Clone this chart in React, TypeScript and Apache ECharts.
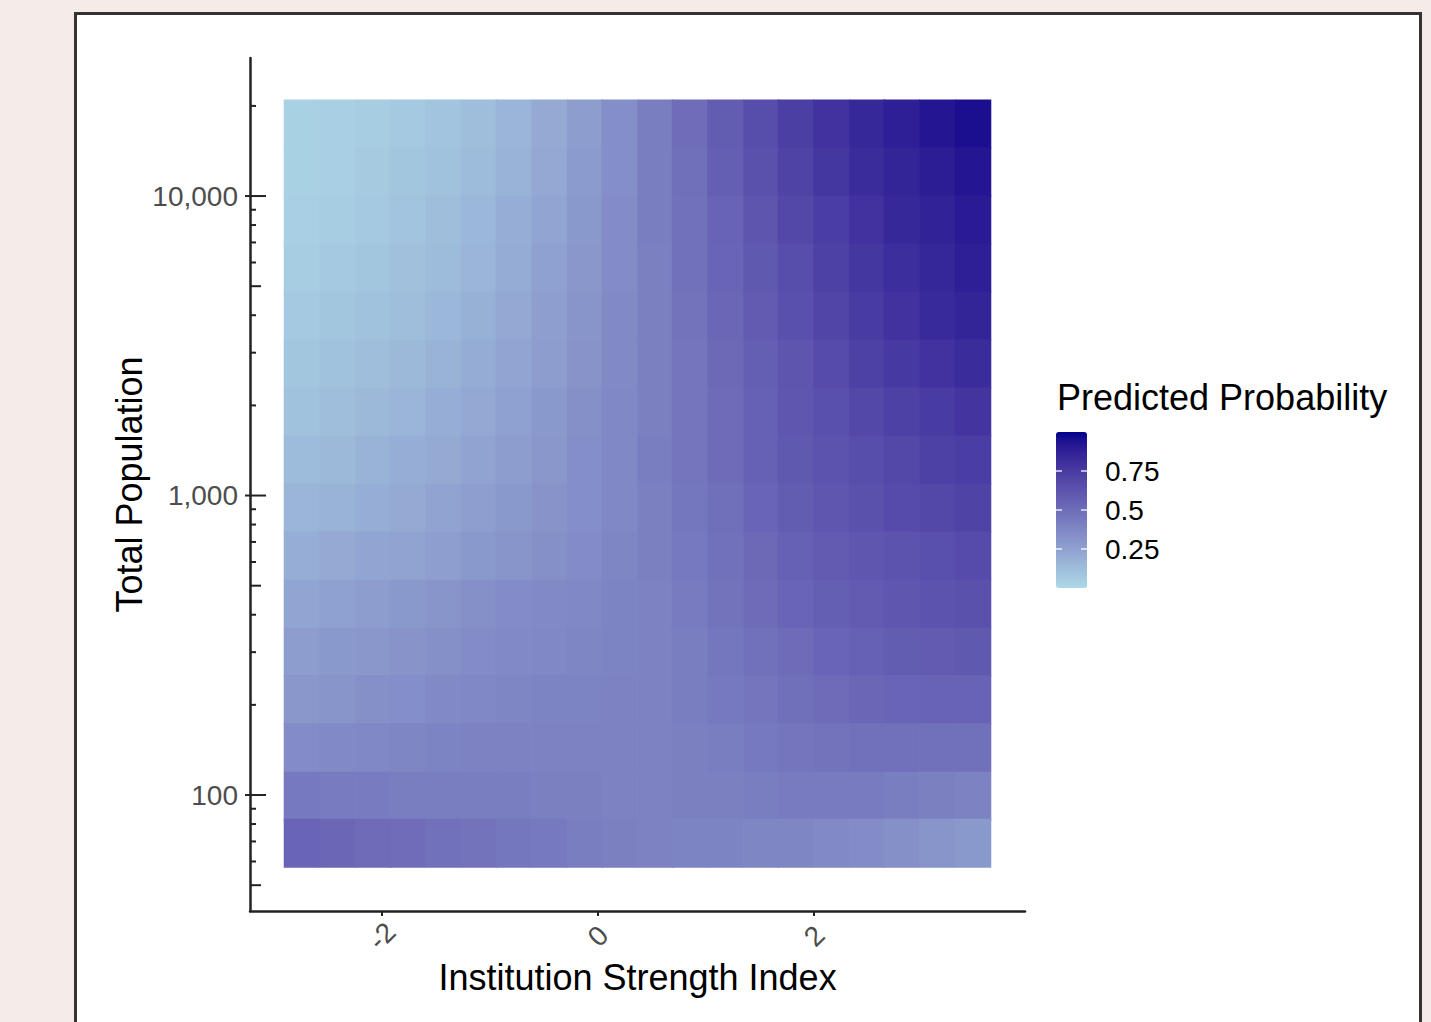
import React, { useEffect, useRef } from 'react';
import * as echarts from 'echarts';

// ---------- data ----------
// x centres of the tiles (Institution Strength Index)
const xCenters = [-2.74, -2.41, -2.08, -1.76, -1.43, -1.10, -0.78, -0.45, -0.12, 0.20, 0.53, 0.85, 1.18, 1.51, 1.83, 2.16, 2.49, 2.81, 3.14, 3.47];
// population centres of the tile rows, top row first
const popCenters = [17395, 12028, 8312, 5750, 3975, 2748, 1900, 1314, 908, 628, 434, 300, 208, 144, 99, 69];
// predicted probability, one row per popCenters entry (top to bottom), one value per xCenters entry
const probRow00 = [0.03, 0.04, 0.05, 0.07, 0.09, 0.12, 0.16, 0.21, 0.27, 0.34, 0.42, 0.50, 0.58, 0.66, 0.73, 0.79, 0.84, 0.88, 0.92, 0.95];
const probRow01 = [0.03, 0.04, 0.06, 0.08, 0.10, 0.13, 0.17, 0.22, 0.28, 0.34, 0.42, 0.49, 0.57, 0.64, 0.71, 0.77, 0.82, 0.86, 0.89, 0.92];
const probRow02 = [0.04, 0.05, 0.07, 0.09, 0.12, 0.15, 0.19, 0.23, 0.29, 0.35, 0.42, 0.48, 0.55, 0.62, 0.69, 0.74, 0.79, 0.84, 0.87, 0.90];
const probRow03 = [0.05, 0.07, 0.08, 0.11, 0.13, 0.16, 0.20, 0.25, 0.30, 0.35, 0.41, 0.48, 0.54, 0.60, 0.66, 0.72, 0.77, 0.81, 0.85, 0.88];
const probRow04 = [0.07, 0.08, 0.10, 0.12, 0.15, 0.18, 0.22, 0.26, 0.31, 0.36, 0.41, 0.47, 0.53, 0.59, 0.65, 0.70, 0.75, 0.79, 0.83, 0.86];
const probRow05 = [0.08, 0.10, 0.12, 0.14, 0.17, 0.20, 0.23, 0.27, 0.32, 0.36, 0.41, 0.46, 0.52, 0.57, 0.62, 0.67, 0.72, 0.76, 0.79, 0.82];
const probRow06 = [0.10, 0.12, 0.14, 0.16, 0.19, 0.22, 0.25, 0.29, 0.33, 0.37, 0.41, 0.46, 0.51, 0.56, 0.61, 0.65, 0.69, 0.72, 0.75, 0.78];
const probRow07 = [0.13, 0.14, 0.17, 0.19, 0.21, 0.24, 0.27, 0.30, 0.34, 0.37, 0.42, 0.46, 0.51, 0.56, 0.60, 0.63, 0.66, 0.69, 0.72, 0.74];
const probRow08 = [0.16, 0.17, 0.19, 0.21, 0.24, 0.26, 0.29, 0.32, 0.34, 0.37, 0.41, 0.45, 0.49, 0.54, 0.58, 0.61, 0.64, 0.67, 0.69, 0.71];
const probRow09 = [0.19, 0.21, 0.23, 0.24, 0.26, 0.29, 0.31, 0.33, 0.35, 0.38, 0.41, 0.44, 0.48, 0.52, 0.56, 0.59, 0.61, 0.63, 0.65, 0.67];
const probRow10 = [0.23, 0.25, 0.27, 0.29, 0.31, 0.33, 0.35, 0.36, 0.37, 0.39, 0.40, 0.43, 0.47, 0.51, 0.54, 0.57, 0.59, 0.61, 0.63, 0.64];
const probRow11 = [0.27, 0.29, 0.30, 0.32, 0.33, 0.35, 0.36, 0.37, 0.38, 0.39, 0.40, 0.42, 0.45, 0.48, 0.51, 0.54, 0.56, 0.58, 0.59, 0.60];
const probRow12 = [0.30, 0.31, 0.33, 0.34, 0.36, 0.37, 0.38, 0.39, 0.39, 0.40, 0.40, 0.42, 0.44, 0.46, 0.49, 0.51, 0.53, 0.54, 0.55, 0.55];
const probRow13 = [0.35, 0.36, 0.37, 0.38, 0.39, 0.40, 0.40, 0.40, 0.40, 0.40, 0.40, 0.41, 0.42, 0.44, 0.46, 0.47, 0.48, 0.48, 0.48, 0.48];
const probRow14 = [0.44, 0.43, 0.43, 0.42, 0.42, 0.42, 0.42, 0.41, 0.41, 0.40, 0.40, 0.41, 0.41, 0.42, 0.43, 0.43, 0.43, 0.42, 0.41, 0.40];
const probRow15 = [0.54, 0.53, 0.51, 0.50, 0.48, 0.47, 0.45, 0.44, 0.42, 0.41, 0.40, 0.39, 0.39, 0.38, 0.38, 0.36, 0.35, 0.33, 0.31, 0.29];
const probRows = [probRow00, probRow01, probRow02, probRow03, probRow04, probRow05, probRow06, probRow07,
  probRow08, probRow09, probRow10, probRow11, probRow12, probRow13, probRow14, probRow15];

const xTickValues = [-2, 0, 2];
const yLabelValues = [100, 1000, 10000];
const yLogTicks = [50, 60, 70, 80, 90, 100, 200, 300, 400, 500, 600, 700, 800, 900,
  1000, 2000, 3000, 4000, 5000, 6000, 7000, 8000, 9000, 10000, 20000];
const legendTicks = [0.25, 0.5, 0.75];
const legendTitle = 'Predicted Probability';
const xTitle = 'Institution Strength Index';
const yTitle = 'Total Population';

// ---------- colour helpers (Lab interpolation, like ggplot) ----------
function hexToRgb(h: string) {
  const n = parseInt(h.slice(1), 16);
  return [(n >> 16) & 255, (n >> 8) & 255, n & 255];
}
function toLin(c: number) { c /= 255; return c <= 0.04045 ? c / 12.92 : Math.pow((c + 0.055) / 1.055, 2.4); }
function fromLin(c: number) { const v = c <= 0.0031308 ? 12.92 * c : 1.055 * Math.pow(c, 1 / 2.4) - 0.055; return Math.max(0, Math.min(255, Math.round(v * 255))); }
const XN = 0.95047, YN = 1, ZN = 1.08883;
function rgbToLab(rgb: number[]) {
  const [r, g, b] = rgb.map(toLin);
  const X = (0.4124 * r + 0.3576 * g + 0.1805 * b) / XN;
  const Y = (0.2126 * r + 0.7152 * g + 0.0722 * b) / YN;
  const Z = (0.0193 * r + 0.1192 * g + 0.9505 * b) / ZN;
  const f = (t: number) => (t > 0.008856 ? Math.cbrt(t) : 7.787 * t + 16 / 116);
  const fx = f(X), fy = f(Y), fz = f(Z);
  return [116 * fy - 16, 500 * (fx - fy), 200 * (fy - fz)];
}
function labToHex(lab: number[]) {
  const fy = (lab[0] + 16) / 116, fx = fy + lab[1] / 500, fz = fy - lab[2] / 200;
  const inv = (f: number) => (f * f * f > 0.008856 ? f * f * f : (f - 16 / 116) / 7.787);
  const X = inv(fx) * XN, Y = inv(fy) * YN, Z = inv(fz) * ZN;
  const r = 3.2406 * X - 1.5372 * Y - 0.4986 * Z;
  const g = -0.9689 * X + 1.8758 * Y + 0.0415 * Z;
  const b = 0.0557 * X - 0.204 * Y + 1.057 * Z;
  return '#' + [r, g, b].map(fromLin).map((v) => v.toString(16).padStart(2, '0')).join('');
}
function labRamp(lo: string, hi: string, n: number) {
  const a = rgbToLab(hexToRgb(lo)), b = rgbToLab(hexToRgb(hi));
  const out: string[] = [];
  for (let i = 0; i < n; i++) {
    const t = i / (n - 1);
    out.push(labToHex([a[0] + (b[0] - a[0]) * t, a[1] + (b[1] - a[1]) * t, a[2] + (b[2] - a[2]) * t]));
  }
  return out;
}

const FONT = '"Liberation Sans", Arial, Helvetica, sans-serif';

export default function App() {
  const ref = useRef<HTMLDivElement>(null);

  useEffect(() => {
    if (!ref.current) return;
    const chart = echarts.init(ref.current, null, { renderer: 'svg' });

    const heatData: number[][] = [];
    probRows.forEach((row, r) => row.forEach((p, j) => heatData.push([xCenters[j], popCenters[r], p])));
    const halfW = (xCenters[xCenters.length - 1] - xCenters[0]) / (xCenters.length - 1) / 2;
    const halfR = Math.sqrt(Math.pow(popCenters[0] / popCenters[popCenters.length - 1], 1 / (popCenters.length - 1)));

    const colors = labRamp('#ADD8E6', '#00008B', 21);

    const barLeft = 1056, barTop = 432, barW = 31, barH = 156;
    const vmMin = 0, vmMax = 1;

    const graphics: any[] = [
      {
        type: 'text', x: 1057, y: 397, z: 10,
        style: { text: legendTitle, fontSize: 36, fontFamily: FONT, fill: '#000', textVerticalAlign: 'middle' },
      },
    ];
    legendTicks.forEach((v) => {
      const ty = barTop + (1 - (v - vmMin) / (vmMax - vmMin)) * barH;
      graphics.push({ type: 'line', z: 10, shape: { x1: barLeft, y1: ty, x2: barLeft + 6, y2: ty }, style: { stroke: 'rgba(255,255,255,0.85)', lineWidth: 1.5 } });
      graphics.push({ type: 'line', z: 10, shape: { x1: barLeft + barW - 6, y1: ty, x2: barLeft + barW, y2: ty }, style: { stroke: 'rgba(255,255,255,0.85)', lineWidth: 1.5 } });
      graphics.push({
        type: 'text', x: 1105, y: ty, z: 10,
        style: { text: String(v), fontSize: 28, fontFamily: FONT, fill: '#000', textVerticalAlign: 'middle' },
      });
    });

    const option: any = {
      animation: false,
      backgroundColor: 'transparent',
      textStyle: { fontFamily: FONT },
      grid: { left: 250, top: 58, width: 775, height: 853, containLabel: false, outerBoundsMode: 'none' },
      xAxis: {
        type: 'value', min: -3.22, max: 3.95,
        splitLine: { show: false },
        axisLine: { onZero: false, lineStyle: { color: '#222', width: 2.5 } },
        axisTick: { customValues: xTickValues, length: 5, lineStyle: { color: '#222', width: 2 } },
        axisLabel: {
          customValues: xTickValues, rotate: 45, align: 'center', verticalAlign: 'middle', margin: 25,
          fontSize: 28, color: '#4D4D4D', fontFamily: FONT,
        },
        name: xTitle, nameLocation: 'middle', nameGap: 48, nameMoveOverlap: false,
        nameTextStyle: { fontSize: 36, color: '#000', fontFamily: FONT },
      },
      yAxis: {
        type: 'log', logBase: 10, min: 41, max: 28900,
        splitLine: { show: false },
        axisLine: { onZero: false, lineStyle: { color: '#222', width: 2.5 } },
        axisTick: { show: false },
        axisLabel: {
          customValues: yLabelValues, margin: 12, fontSize: 28, color: '#4D4D4D', fontFamily: FONT,
          formatter: (v: number) => Math.round(v).toLocaleString('en-US'),
        },
        name: yTitle, nameLocation: 'middle', nameGap: 103, nameMoveOverlap: false,
        nameTextStyle: { fontSize: 36, color: '#000', fontFamily: FONT },
      },
      visualMap: {
        type: 'continuous', min: vmMin, max: vmMax, dimension: 2, seriesIndex: 0,
        inRange: { color: colors },
        left: barLeft, top: barTop, itemWidth: barW, itemHeight: barH,
        calculable: false, hoverLink: false, padding: 0, orient: 'vertical', text: null,
      },
      graphic: graphics,
      series: [
        {
          type: 'custom', coordinateSystem: 'cartesian2d', silent: true,
          data: heatData, encode: { x: 0, y: 1 }, dimensions: ['x', 'pop', 'p'],
          renderItem: (params: any, api: any) => {
            const x = api.value(0), y = api.value(1);
            const tl = api.coord([x - halfW, y * halfR]);
            const br = api.coord([x + halfW, y / halfR]);
            return {
              type: 'rect',
              shape: { x: tl[0] - 0.5, y: tl[1] - 0.5, width: br[0] - tl[0] + 1, height: br[1] - tl[1] + 1 },
              style: { fill: api.visual('color'), stroke: null },
            };
          },
        },
        {
          type: 'custom', coordinateSystem: 'cartesian2d', silent: true,
          data: yLogTicks.map((v) => [0, v]), encode: { x: 0, y: 1 },
          renderItem: (params: any, api: any) => {
            const v = api.value(1);
            const py = api.coord([0, v])[1];
            const cs = params.coordSys;
            const lg = Math.log10(v);
            const major = Math.abs(lg - Math.round(lg)) < 1e-6;
            const lead = v / Math.pow(10, Math.floor(lg + 1e-9));
            const len = major ? 16 : Math.abs(lead - 5) < 1e-6 ? 11 : 6;
            return {
              type: 'line',
              shape: { x1: cs.x - (major ? 5 : 0), y1: py, x2: cs.x + len, y2: py },
              style: { stroke: '#222', lineWidth: 2 },
            };
          },
        },
      ],
    };

    chart.setOption(option);
    return () => chart.dispose();
  }, []);

  return (
    <div style={{ position: 'fixed', left: 0, top: 0, width: 1431, height: 1022, background: '#F5EBE9', overflow: 'hidden' }}>
      <div style={{ position: 'absolute', left: 74, top: 12, width: 1342, height: 1100, border: '3px solid #363232', background: '#ffffff' }} />
      <div ref={ref} style={{ position: 'absolute', left: 0, top: 0, width: 1431, height: 1022 }} />
    </div>
  );
}
